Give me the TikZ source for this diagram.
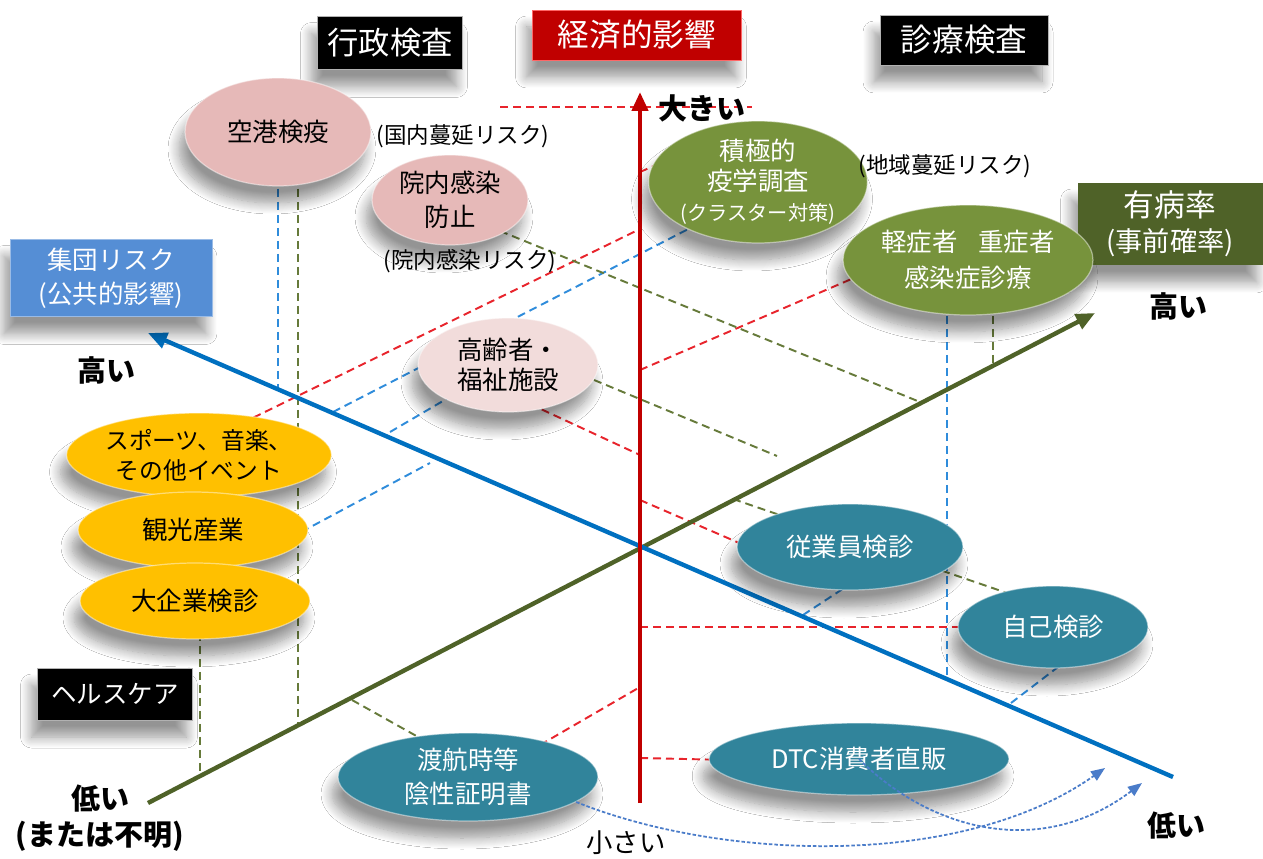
\documentclass[tikz,border=0pt]{standalone}
\usepackage{fontspec}
\setmainfont{Noto Sans CJK JP}
\usetikzlibrary{shapes.geometric,arrows.meta,backgrounds,shadows,shadows.blur}
\definecolor{axR}{HTML}{C00000}
\definecolor{axB}{HTML}{0070C0}
\definecolor{axG}{HTML}{4F6228}
\definecolor{dR}{HTML}{E8242C}
\definecolor{dB}{HTML}{2F8CDB}
\definecolor{dG}{HTML}{667A3A}
\definecolor{pinkA}{HTML}{E6B9B8}
\definecolor{pinkB}{HTML}{F2DCDB}
\definecolor{oliveE}{HTML}{77933C}
\definecolor{goldE}{HTML}{FFC000}
\definecolor{tealE}{HTML}{31849B}
\definecolor{boxBlue}{HTML}{558ED5}
\definecolor{boxOlive}{HTML}{4F6228}
\definecolor{curveB}{HTML}{4A7CC9}
\begin{document}
\begin{tikzpicture}[x=0.02cm,y=-0.02cm,
  softshadow/.style={blur shadow={shadow xshift=-0.12cm,shadow yshift=-0.34cm,shadow blur radius=0.22cm,shadow blur steps=12,shadow opacity=42}},
  ell/.style={ellipse,inner sep=0pt,align=center,font=\fontsize{14.5}{18}\selectfont,draw=white,draw opacity=0.45,line width=0.7pt,softshadow},
  lbox/.style={rectangle,inner sep=0pt,align=center,text=white,softshadow},
  rdash/.style={draw=dR,line width=1.1pt,dash pattern=on 0.16cm off 0.1cm},
  bdash/.style={draw=dB,line width=1.1pt,dash pattern=on 0.16cm off 0.1cm},
  gdash/.style={draw=dG,line width=1.1pt,dash pattern=on 0.16cm off 0.1cm},
  axisline/.style={line width=2.5pt,-{Triangle[length=0.38cm,width=0.32cm]}},
  curvearrow/.style={draw=curveB,line width=1pt,dash pattern=on 0.07cm off 0.04cm,-{Triangle[length=0.28cm,width=0.22cm]}},
  boldlabel/.style={font=\bfseries\fontsize{16.5}{20.5}\selectfont,align=center},
  note/.style={font=\fontsize{12.8}{15}\selectfont}
]
\useasboundingbox (0,0) rectangle (1263,858);
% axis end points
\coordinate (rB) at (640,803);
\coordinate (rT) at (640,92);
\coordinate (bL) at (148,333);
\coordinate (bR) at (1173,777);
\coordinate (gL) at (148,803);
\coordinate (gR) at (1095,313);

% ---------------- nodes ----------------
\node[lbox,fill=black,draw=gray!60,minimum width=2.9cm,minimum height=1.06cm,font=\fontsize{17.8}{20}\selectfont] (kousei) at (390,43) {行政検査};
\node[lbox,fill=axR,draw=red!60!white,minimum width=4.18cm,minimum height=1.0cm,font=\fontsize{18}{20}\selectfont] (keizai) at (637,35) {経済的影響};
\node[lbox,fill=black,draw=gray!60,minimum width=3.36cm,minimum height=1.0cm,font=\fontsize{18}{20}\selectfont] (shinryo) at (964,40) {診療検査};
\node[lbox,fill=boxBlue,draw=boxBlue!60!white,minimum width=4.04cm,minimum height=1.54cm,font=\fontsize{14.5}{19.5}\selectfont] (shudan) at (111,278) {集団リスク\\(公共的影響)};
\node[lbox,fill=boxOlive,minimum width=3.7cm,minimum height=1.64cm,font=\fontsize{15.5}{20}\selectfont] (yubyo) at (1170,224) {{\fontsize{17.5}{20}\selectfont 有病率}\\(事前確率)};
\node[lbox,fill=black,draw=gray!60,minimum width=3.1cm,minimum height=1.04cm,font=\fontsize{14.5}{18}\selectfont] (health) at (115,694) {ヘルスケア};

\node[ell,fill=pinkA,minimum width=3.72cm,minimum height=2.16cm] (kuko) at (278,132) {空港検疫};
\node[ell,fill=pinkA,minimum width=3.12cm,minimum height=1.8cm,font=\fontsize{14.5}{19.5}\selectfont] (innai) at (450,200) {院内感染\\防止};
\node[ell,fill=oliveE,text=white,minimum width=4.12cm,minimum height=2.44cm,font=\fontsize{14.5}{17}\selectfont] (sekkyoku) at (758,182) {積極的\\疫学調査\\{\fontsize{11.5}{14}\selectfont (クラスター対策)}};
\node[ell,fill=oliveE,text=white,minimum width=5.0cm,minimum height=2.2cm,font=\fontsize{14.5}{20.5}\selectfont] (keisho) at (968,260) {軽症者\hspace{0.8em}重症者\\感染症診療};
\node[ell,fill=pinkB,minimum width=3.6cm,minimum height=1.88cm,font=\fontsize{14.5}{17}\selectfont] (korei) at (508,365) {高齢者・\\福祉施設};
\node[ell,fill=goldE,minimum width=5.08cm,minimum height=1.68cm,font=\fontsize{13.5}{17}\selectfont] (sports) at (199,455) {スポーツ、音楽、\\その他イベント};
\node[ell,fill=goldE,minimum width=4.6cm,minimum height=1.52cm] (kanko) at (193,530) {観光産業};
\node[ell,fill=goldE,minimum width=4.6cm,minimum height=1.52cm] (daikigyo) at (195,601) {大企業検診};
\node[ell,fill=tealE,text=white,minimum width=5.2cm,minimum height=1.76cm,font=\fontsize{14.5}{19}\selectfont] (toko) at (468,777) {渡航時等\\陰性証明書};
\node[ell,fill=tealE,text=white,minimum width=4.52cm,minimum height=1.72cm] (jugyoin) at (850,547) {従業員検診};
\node[ell,fill=tealE,text=white,minimum width=3.8cm,minimum height=1.64cm] (jiko) at (1053,627) {自己検診};
\node[ell,fill=tealE,text=white,minimum width=6.0cm,minimum height=1.44cm] (dtc) at (859,759) {DTC消費者直販};

% labels
\node[boldlabel,anchor=west] (ookii) at (652,108) {大きい};
\node[font=\fontsize{15}{17}\selectfont] (chiisai) at (626,843) {小さい};
\node[boldlabel] (takaiL) at (106,370) {高い};
\node[boldlabel] (takaiR) at (1178,306) {高い};
\node[boldlabel] (hikuiL) at (100,818) {低い\\(または不明)};
\node[boldlabel] (hikuiR) at (1176,826) {低い};
\node[note] (riskA) at (463,136) {(国内蔓延リスク)};
\node[note] (riskB) at (470,261) {(院内感染リスク)};
\node[note] (riskC) at (945,166) {(地域蔓延リスク)};

% ---------------- lines behind ----------------
\begin{pgfonlayer}{background}
\fill[white] (0,0) rectangle (1263,858);
% red projections (economic impact)
\draw[rdash] (500,107) -- (752,107);
\draw[rdash] (230,429) -- (640,229);
\draw[rdash] (640,172) -- (690,150);
\draw[rdash] (640,370) -- (870,271);
\draw[rdash] (530,404) -- (640,455);
\draw[rdash] (640,500) -- (760,552);
\draw[rdash] (640,627) -- (980,627);
\draw[rdash] (540,745) -- (640,687);
\draw[rdash] (640,758) -- (730,760);
% blue projections (group risk)
\draw[bdash] (278,150) -- (278,390);
\draw[bdash] (333,412) -- (700,223);
\draw[bdash] (390,432) -- (460,391);
\draw[bdash] (290,538) -- (430,463);
\draw[bdash] (947,290) -- (947,677);
\draw[bdash] (803,615) -- (870,571);
\draw[bdash] (1011,703) -- (1075,654);
% green projections (prevalence)
\draw[gdash] (298,150) -- (298,727);
\draw[gdash] (200,620) -- (200,776);
\draw[gdash] (500,231) -- (920,402);
\draw[gdash] (570,370) -- (777,456);
\draw[gdash] (733,499) -- (1010,594);
\draw[gdash] (993,290) -- (993,366);
\draw[gdash] (352,700) -- (420,738);
% axes
\draw[axisline,draw=axG,fill=axG] (gL) -- (gR);
\draw[axisline,draw=axB,fill=axB] (bR) -- (bL);
\draw[axisline,draw=axR,fill=axR] (rB) -- (rT);
\end{pgfonlayer}

% dotted curved arrows
\coordinate (e1) at (1105,768);
\coordinate (e2) at (1142,783);
\draw[curvearrow] (toko.-13) .. controls (720,860) and (960,870) .. (e1);
\draw[curvearrow] (dtc.center) .. controls (930,830) and (1040,860) .. (e2);
\end{tikzpicture}
\end{document}
